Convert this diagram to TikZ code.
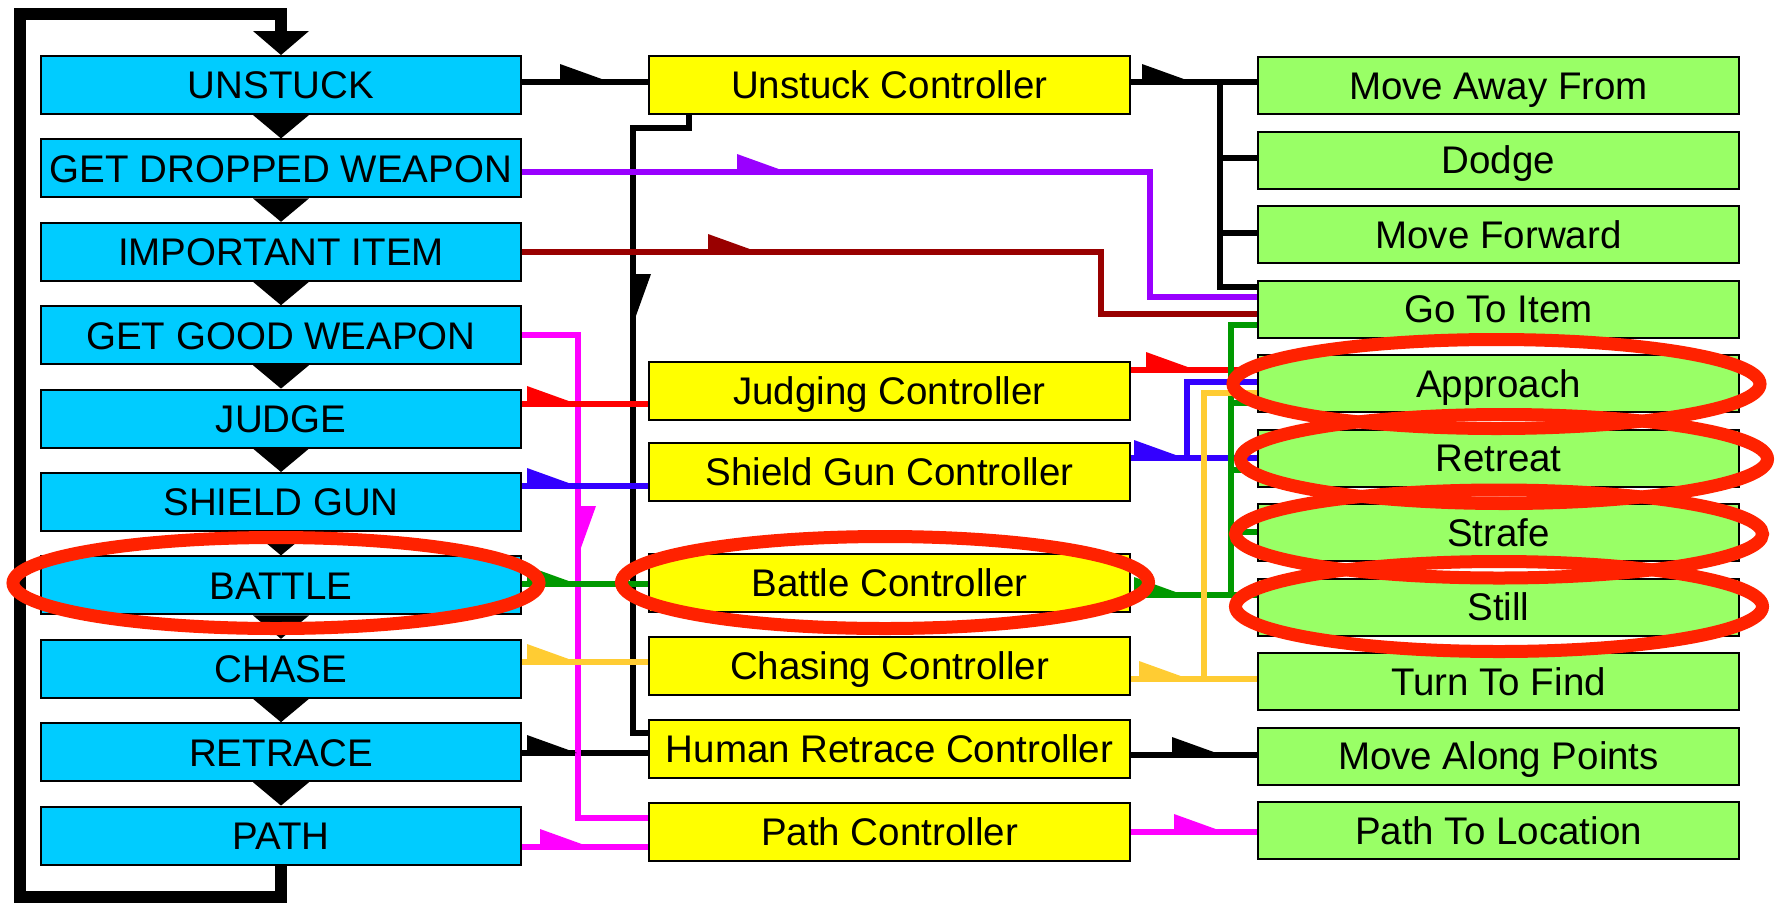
\documentclass[tikz,border=0pt]{standalone}
\usepackage{fontspec}
\setmainfont{Liberation Sans}
\definecolor{cyanbox}{HTML}{00CCFF}
\definecolor{yellowbox}{HTML}{FFFF00}
\definecolor{greenbox}{HTML}{99FF66}
\definecolor{ellred}{HTML}{FF2200}
\definecolor{cpurple}{HTML}{9900FF}
\definecolor{cdarkred}{HTML}{990000}
\definecolor{cmagenta}{HTML}{FF00FF}
\definecolor{cred}{HTML}{FF0000}
\definecolor{cblue}{HTML}{3300FF}
\definecolor{cgreen}{HTML}{009900}
\definecolor{corange}{HTML}{FFCC33}
\begin{document}
\begin{tikzpicture}[x=1pt,y=-1pt,
  box/.style={draw=black, line width=2pt, minimum width=481pt, minimum height=58pt,
    inner sep=0pt, text height=27.6pt, text depth=0pt, font=\fontsize{38.5}{40}\selectfont},
  bbox/.style={box, fill=cyanbox, minimum width=480pt},
  ybox/.style={box, fill=yellowbox},
  gbox/.style={box, fill=greenbox, minimum height=57pt},
  conn/.style={line width=5.5pt},
  loopline/.style={line width=12pt},
  ell/.style={draw=ellred, line width=13pt},
  harr/.pic={\fill (0,2.5) -- (0,-18) -- (50,0) -- cycle;}
]
\useasboundingbox (0,0) rectangle (1783,903);

% blue state boxes
\node[bbox] (b1) at (281,85) {UNSTUCK};
\node[bbox] (b2) at (281,168.4) {GET DROPPED WEAPON};
\node[bbox] (b3) at (281,251.8) {IMPORTANT ITEM};
\node[bbox] (b4) at (281,335.2) {GET GOOD WEAPON};
\node[bbox] (b5) at (281,418.6) {JUDGE};
\node[bbox] (b6) at (281,502) {SHIELD GUN};
\node[bbox] (b7) at (281,585.4) {BATTLE};
\node[bbox] (b8) at (281,668.8) {CHASE};
\node[bbox] (b9) at (281,752.2) {RETRACE};
\node[bbox] (b10) at (281,835.6) {PATH};

% yellow controllers
\node[ybox] (c1) at (889.5,85) {Unstuck Controller};
\node[ybox] (c2) at (889.5,391) {Judging Controller};
\node[ybox] (c3) at (889.5,472) {Shield Gun Controller};
\node[ybox] (c4) at (889.5,583) {Battle Controller};
\node[ybox] (c5) at (889.5,666) {Chasing Controller};
\node[ybox] (c6) at (889.5,749) {Human Retrace Controller};
\node[ybox] (c7) at (889.5,831.5) {Path Controller};

% green actions
\node[gbox] (g1) at (1498.5,85.5) {Move Away From};
\node[gbox] (g2) at (1498.5,160) {Dodge};
\node[gbox] (g3) at (1498.5,234.5) {Move Forward};
\node[gbox] (g4) at (1498.5,309) {Go To Item};
\node[gbox] (g5) at (1498.5,383.5) {Approach};
\node[gbox] (g6) at (1498.5,458) {Retreat};
\node[gbox] (g7) at (1498.5,532.5) {Strafe};
\node[gbox] (g8) at (1498.5,607) {Still};
\node[gbox] (g9) at (1498.5,681.5) {Turn To Find};
\node[gbox] (g10) at (1498.5,756) {Move Along Points};
\node[gbox] (g11) at (1498.5,830.5) {Path To Location};

% loop
\draw[loopline] (b10.south) -- (b10.south |- 0,897) -- (20,897) -- (20,14) -- (b1.north |- 0,14) -- (b1.north |- 0,32);
\fill (253,31) -- (309,31) -- (b1.north) -- cycle;
\foreach \a/\b in {b1/b2,b2/b3,b3/b4,b4/b5,b5/b6,b6/b7,b7/b8,b8/b9,b9/b10}{
  \fill ([xshift=-28pt]\a.south) -- ([xshift=28pt]\a.south) -- (\b.north) -- cycle;
}

% black connectors
\draw[conn] (b1.east |- 0,82) -- (c1.west |- 0,82);
\draw[conn] (c1.east |- 0,82) -- (g1.west |- 0,82);
\draw[conn] (1220,82) |- (g4.west |- 0,287);
\draw[conn] (1220,158) -- (g2.west |- 0,158);
\draw[conn] (1220,233) -- (g3.west |- 0,233);
\draw[conn] (689,0 |- c1.south) -- (689,128) -- (633,128) |- (c6.west |- 0,733);
\draw[conn] (c6.west |- 0,753) -- (b9.east |- 0,753);
\draw[conn] (c6.east |- 0,755) -- (g10.west |- 0,755);

% purple / dark red
\draw[conn, cpurple] (b2.east |- 0,172) -| (1150,297) -- (g4.west |- 0,297);
\draw[conn, cdarkred] (b3.east |- 0,252) -| (1101,314) -- (g4.west |- 0,314);

% magenta
\draw[conn, cmagenta] (b4.east |- 0,335) -| (578,818) -- (c7.west |- 0,818);
\draw[conn, cmagenta] (b10.east |- 0,847) -- (c7.west |- 0,847);
\draw[conn, cmagenta] (c7.east |- 0,832) -- (g11.west |- 0,832);

% red
\draw[conn, cred] (b5.east |- 0,404) -- (c2.west |- 0,404);
\draw[conn, cred] (c2.east |- 0,370) -- (g5.west |- 0,370);

% blue
\draw[conn, cblue] (b6.east |- 0,486) -- (c3.west |- 0,486);
\draw[conn, cblue] (c3.east |- 0,458) -- (g6.west |- 0,458);
\draw[conn, cblue] (1187,458) |- (g5.west |- 0,382);

% green
\draw[conn, cgreen] (b7.east |- 0,584) -- (c4.west |- 0,584);
\draw[conn, cgreen] (c4.east |- 0,595) -- (g8.west |- 0,595);
\draw[conn, cgreen] (1231,595) |- (g4.west |- 0,325);
\draw[conn, cgreen] (1231,403) -- (g5.west |- 0,403);
\draw[conn, cgreen] (1231,470) -- (g6.west |- 0,470);
\draw[conn, cgreen] (1231,532) -- (g7.west |- 0,532);

% orange
\draw[conn, corange] (b8.east |- 0,662) -- (c5.west |- 0,662);
\draw[conn, corange] (c5.east |- 0,679) -- (g9.west |- 0,679);
\draw[conn, corange] (1204,679) |- (g5.west |- 0,393);

% half arrowheads
\pic[color=black] at (560,82) {harr};
\pic[color=black] at (1142,82) {harr};
\pic[color=black, rotate=-90] at (633,274) {harr};
\pic[color=black] at (527,753) {harr};
\pic[color=black] at (1172,755) {harr};
\pic[color=cpurple] at (737,172) {harr};
\pic[color=cdarkred] at (708,252) {harr};
\pic[color=cmagenta, rotate=-90] at (578,506) {harr};
\pic[color=cmagenta] at (540,847) {harr};
\pic[color=cmagenta] at (1174,832) {harr};
\pic[color=cred] at (527,404) {harr};
\pic[color=cred] at (1146,370) {harr};
\pic[color=cblue] at (527,486) {harr};
\pic[color=cblue] at (1134,458) {harr};
\pic[color=cgreen] at (527,584) {harr};
\pic[color=cgreen] at (1134,595) {harr};
\pic[color=corange] at (527,662) {harr};
\pic[color=corange] at (1139,679) {harr};

% highlight ellipses
\draw[ell] (276,583) ellipse [x radius=263, y radius=45.5];
\draw[ell] (885,582.5) ellipse [x radius=263.5, y radius=46];
\draw[ell] (1496.5,384) ellipse [x radius=263.5, y radius=44.5];
\draw[ell] (1504,459) ellipse [x radius=263.5, y radius=44.5];
\draw[ell] (1499,534) ellipse [x radius=263.5, y radius=44];
\draw[ell] (1499,606.5) ellipse [x radius=263.5, y radius=45];
\end{tikzpicture}
\end{document}
